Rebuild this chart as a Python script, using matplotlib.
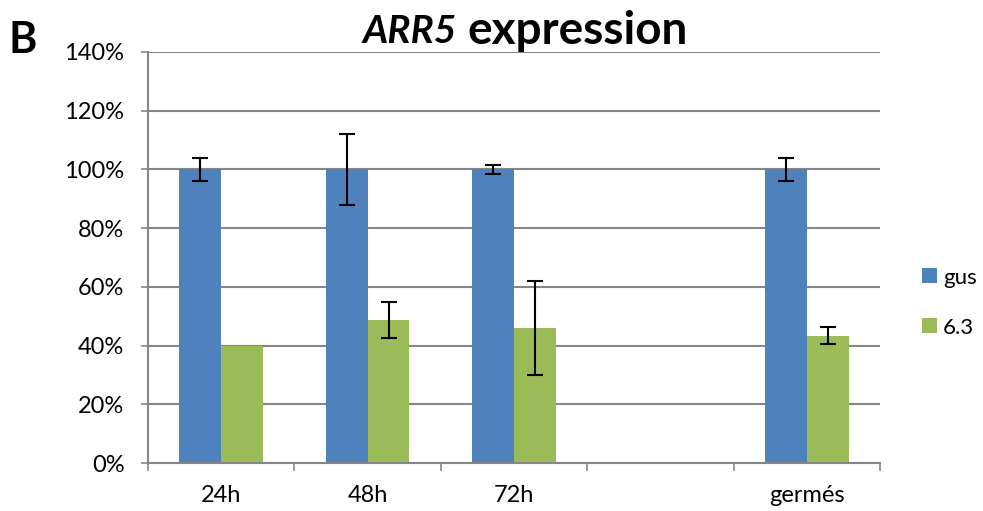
import numpy as np
import matplotlib.pyplot as plt

categories = ["24h", "48h", "72h", "", "germés"]
series = ["gus", "6.3"]
gus = [100, 100, 100, np.nan, 100]
gus_err = [4, 12, 1.5, 0, 4]
s63 = [40, 48.7, 46.1, np.nan, 43.4]
s63_err = [0, 6.2, 16, 0, 3]

blue = "#4F81BD"
green = "#9BBB59"
grey = "#868686"

plt.rcParams["font.family"] = ["Lato", "DejaVu Sans"]

fig = plt.figure(figsize=(9.83, 5.11), dpi=100)
ax = fig.add_axes([148 / 983, 48 / 511, 732 / 983, 411 / 511])

x = np.arange(len(categories))
w = 1 / 3.5
ekw = dict(ecolor="black", elinewidth=1.5, capsize=6, capthick=1.5)
ax.bar(x - w / 2, gus, w, color=blue, label=series[0], zorder=2)
ax.bar(x + w / 2, s63, w, color=green, label=series[1], zorder=2)
for xs, vals, errs in [(x - w / 2, gus, gus_err), (x + w / 2, s63, s63_err)]:
    for xi, v, e in zip(xs, vals, errs):
        if e > 0:
            ax.errorbar(xi, v, yerr=e, fmt="none", zorder=3, **ekw)

ax.set_xlim(-0.5, len(categories) - 0.5)
ax.set_ylim(0, 140)
ax.set_yticks(np.arange(0, 141, 20))
ax.set_yticklabels([f"{v}%" for v in range(0, 141, 20)], fontsize=17)
ax.yaxis.grid(True, color=grey, linewidth=1.5, zorder=0)
ax.set_axisbelow(True)

ax.set_xticks(np.arange(-0.5, len(categories), 1))
ax.set_xticklabels([])
ax.set_xticks(x, minor=True)
ax.set_xticklabels(categories, minor=True, fontsize=17)
ax.tick_params(axis="x", which="minor", length=0, pad=16)
ax.tick_params(axis="x", which="major", length=6, color=grey, width=1.2)
ax.tick_params(axis="y", length=5, color=grey, width=1.2, pad=12)

for s in ["top", "right"]:
    ax.spines[s].set_visible(False)
for s in ["left", "bottom"]:
    ax.spines[s].set_color(grey)
    ax.spines[s].set_linewidth(1.5)

ax.legend(loc="center left", bbox_to_anchor=(1.042, 0.39), frameon=False,
          fontsize=16, handlelength=0.66, handleheight=0.66,
          labelspacing=1.35, handletextpad=0.3, borderpad=0)

fig.text(457 / 983, 1 - 31 / 511, "ARR5", ha="right", va="center",
         fontsize=28, fontweight="bold", fontstyle="italic")
fig.text(467 / 983, 1 - 31 / 511, "expression", ha="left", va="center",
         fontsize=33, fontweight="bold")
fig.text(9 / 983, 1 - 40 / 511, "B", ha="left", va="center",
         fontsize=31, fontweight="bold")

fig.savefig("out.png", dpi=100)
